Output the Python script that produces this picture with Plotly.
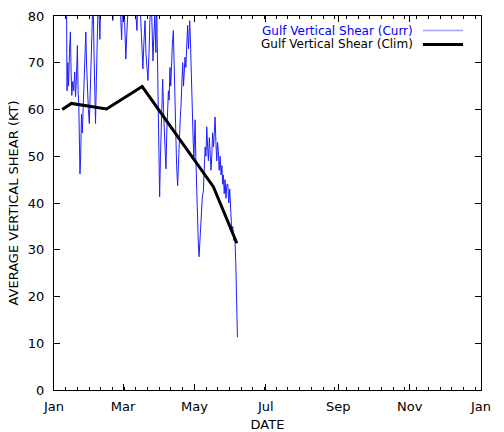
import pandas as pd
import plotly.graph_objects as go

# Day offsets from Jan 1 and values
curr_day = [10.6, 11.1, 11.8, 12.4, 13.2, 14.0, 14.6, 15.2, 16.0, 16.8, 17.7, 18.4, 19.2, 20.0,
            20.6, 21.2, 21.8, 22.2, 22.8, 23.5, 24.2, 25.0, 25.8, 26.6, 27.2, 27.8, 28.6, 29.4,
            30.2, 30.8, 31.6, 32.4, 33.4, 34.2, 35.0, 35.5, 36.2, 37.0, 37.8, 38.6, 39.2, 40.0,
            41.0, 42.5, 44.0, 45.5, 47.0, 48.5, 50.3, 51.2, 52.5, 54.0, 55.5, 57.0, 57.8, 58.6,
            59.5, 60.5, 61.4, 62.2, 63.0, 64.5, 66.0, 67.5, 69.0, 70.2, 70.9, 71.6, 72.8, 74.0,
            75.2, 76.0, 76.8, 77.8, 78.6, 79.5, 80.3, 81.2, 82.0, 82.8, 83.8, 84.6, 85.4, 86.2,
            87.1, 87.7, 88.3, 89.0, 89.6, 90.3, 91.0, 91.7, 92.3, 92.9, 93.6, 94.3, 95.0, 95.7,
            96.4, 97.1, 97.8, 98.4, 99.1, 99.8, 100.5, 101.2, 102.0, 102.6, 103.3, 104.0, 104.8,
            105.7, 106.4, 107.2, 107.9, 108.6, 109.3, 110.0, 110.7, 111.4, 112.0, 112.7, 113.4,
            114.2, 115.0, 116.0, 116.7, 117.4, 118.2, 119.0, 119.6, 120.2, 120.6, 121.2, 122.0,
            122.8, 123.4, 124.0, 124.6, 125.3, 126.0, 126.8, 127.7, 128.4, 129.2, 129.9, 130.6,
            131.3, 132.0, 132.8, 133.5, 134.2, 134.9, 135.6, 136.4, 137.0, 137.7, 138.4, 139.1,
            139.8, 140.5, 141.2, 142.0, 142.8, 143.5, 144.2, 144.8, 145.5, 146.2, 147.0, 147.8,
            148.6, 149.4, 150.2, 151.0, 151.6, 152.0, 152.8, 153.6, 154.3, 154.8, 155.4, 156.0,
            156.5, 156.8]
curr_val = [90, 64, 70, 65, 72, 76.6, 68, 63, 66, 64, 68, 62.7, 67, 73.7,
            64, 61, 52, 46.2, 50, 59, 55, 62, 68, 72, 76.6, 70, 64, 60,
            57, 62, 70, 78, 85, 72, 60, 57, 66, 78, 84, 80, 75, 83,
            90, 88, 83, 86, 82, 85, 79, 84, 88, 83, 86, 80, 74.9, 82,
            86, 78, 70.8, 76, 84, 88, 85, 90, 84, 80, 76.9, 82, 86, 80,
            72, 68.7, 74, 79, 72, 68, 66.2, 72, 80, 86, 78, 70.4, 76, 80,
            72.2, 85, 73.4, 60, 50, 41.3, 50, 58, 62, 66.5, 60, 55, 50, 47.3,
            55, 60, 64, 62, 69, 65, 71, 74, 76.9, 70, 62, 54, 48,
            43.7, 50, 56, 58, 61, 66, 70, 65, 68, 71.2, 69, 75,
            78, 73, 79, 74, 66, 58, 53, 49.8, 54, 57.8, 50, 42,
            35, 31, 28.5, 32, 36, 40, 41.3, 42.6, 46, 52, 50, 56.3,
            52, 49, 54, 51, 47, 50, 55, 52, 56, 58.4, 53, 49,
            53, 51, 47, 50, 46, 48, 44, 46, 42, 45, 41, 44,
            44, 40, 43, 38, 34, 33.6, 35, 32, 33, 31.4, 27, 20,
            14, 11.3]

clim_day = [7.0, 14.9, 44.9, 62.0, 75.4, 136.2, 156.3]
clim_val = [60.0, 61.3, 60.1, 62.8, 64.9, 43.5, 31.4]

x_start = "2013-01-01"
x_end = "2014-01-01"

base = pd.Timestamp(x_start)
curr_dates = base + pd.to_timedelta(curr_day, unit="D")
clim_dates = base + pd.to_timedelta(clim_day, unit="D")

font = "DejaVu Sans, Liberation Sans, Arial, sans-serif"

fig = go.Figure()
fig.add_trace(go.Scatter(x=curr_dates, y=curr_val, mode="lines",
                         line=dict(color="rgb(30,30,255)", width=1),
                         name="Gulf Vertical Shear (Curr)", showlegend=False))
fig.add_trace(go.Scatter(x=clim_dates, y=clim_val, mode="lines",
                         line=dict(color="black", width=3),
                         name="Gulf Vertical Shear (Clim)", showlegend=False))

# gnuplot-style legend: right-aligned text with sample line on the right
legend_rows = [("Gulf Vertical Shear (Curr)", "blue", "rgb(160,160,255)", 1.5, 0.961),
               ("Gulf Vertical Shear (Clim)", "black", "black", 3, 0.924)]
for text, tcol, lcol, lw, yy in legend_rows:
    fig.add_annotation(x=0.845, y=yy, xref="paper", yref="paper", text=text,
                       showarrow=False, xanchor="right", yanchor="middle",
                       font=dict(family=font, size=12, color=tcol))
    fig.add_shape(type="line", xref="paper", yref="paper", x0=0.864, x1=0.958,
                  y0=yy, y1=yy, line=dict(color=lcol, width=lw))

fig.update_layout(
    width=504, height=432,
    margin=dict(l=54, r=23, t=16, b=42, autoexpand=False),
    paper_bgcolor="white", plot_bgcolor="white",
    font=dict(family=font, size=13, color="black"),
    xaxis=dict(
        range=[x_start, x_end], type="date", automargin=False,
        dtick="M2", tick0=x_start, tickformat="%b",
        ticks="inside", ticklen=6, tickcolor="black", tickwidth=1,
        showline=True, linecolor="black", linewidth=1, mirror="allticks",
        showgrid=False, zeroline=False, ticklabelstandoff=4,
        minor=dict(ticks="inside", ticklen=3, dtick=10 * 86400000, tick0=x_start,
                   tickcolor="black", showgrid=False),
        title=dict(text="DATE", standoff=8, font=dict(size=13)),
        tickfont=dict(size=13),
    ),
    yaxis=dict(
        range=[0, 80], dtick=10, tick0=0, automargin=False,
        ticks="inside", ticklen=6, tickcolor="black", tickwidth=1,
        showline=True, linecolor="black", linewidth=1, mirror="allticks",
        showgrid=False, zeroline=False, ticklabelstandoff=6,
        title=dict(text="AVERAGE VERTICAL SHEAR (KT)", standoff=6, font=dict(size=13)),
        tickfont=dict(size=13),
    ),
)

fig.write_html("out.html")
